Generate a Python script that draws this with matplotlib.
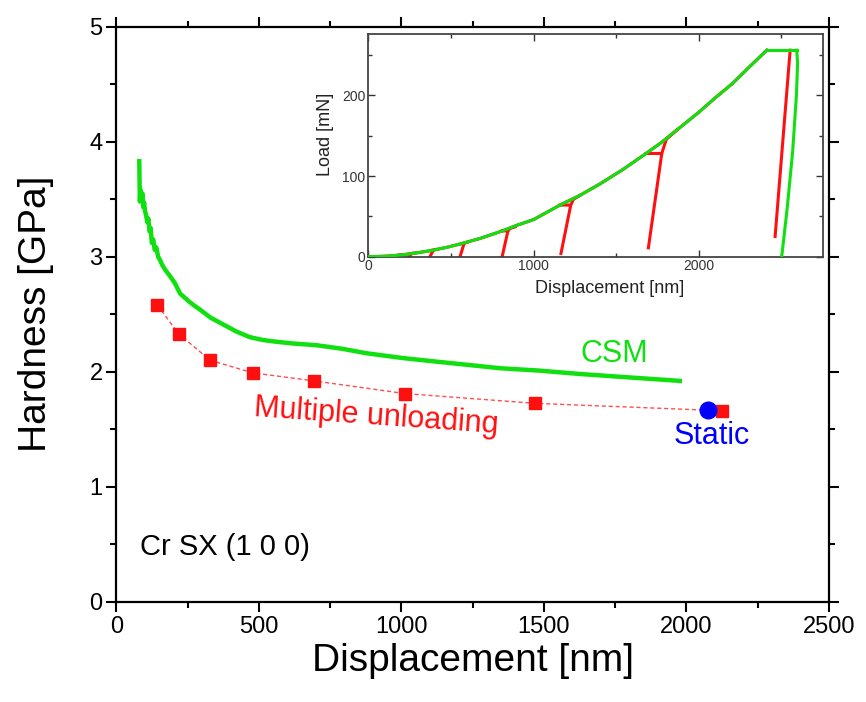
import numpy as np
import matplotlib
matplotlib.use("Agg")
import matplotlib.pyplot as plt
from matplotlib.ticker import MultipleLocator

plt.rcParams['font.family'] = ['Liberation Sans', 'DejaVu Sans']

# ---------------- main plot data ----------------
csm_x = [80, 81, 82, 85, 88, 91, 94, 97, 100, 104, 108, 112, 116, 120, 124, 129,
         134, 140, 146, 153, 160, 170, 188, 205, 223, 250, 270, 293, 330, 375,
         420, 468, 515, 562, 620, 702, 790, 878, 1000, 1112, 1230, 1346, 1480,
         1626, 1800, 1977]
csm_y = [3.83, 3.65, 3.48, 3.58, 3.50, 3.55, 3.43, 3.47, 3.40, 3.36, 3.30, 3.33,
         3.22, 3.25, 3.12, 3.15, 3.06, 3.08, 3.00, 2.97, 2.93, 2.89, 2.83, 2.77,
         2.68, 2.62, 2.58, 2.54, 2.47, 2.41, 2.35, 2.30, 2.275, 2.26, 2.245, 2.23,
         2.20, 2.16, 2.12, 2.09, 2.06, 2.03, 2.01, 1.98, 1.95, 1.92]

mu_x = [143, 218, 328, 478, 693, 1011, 1468, 2126]
mu_y = [2.58, 2.33, 2.10, 1.99, 1.92, 1.81, 1.725, 1.66]

static_x = [2077]
static_y = [1.67]

# ---------------- inset data ----------------
load_h = [0, 100, 190, 270, 390, 480, 560, 680, 811, 900, 1000, 1080, 1160,
          1280, 1400, 1540, 1681, 1770, 1867, 2000, 2100, 2200, 2310, 2412]
load_P = [0, 0.6, 2, 4, 8, 11.9, 16, 22.9, 32, 39, 46, 55, 64,
          76, 90, 108, 128, 141, 157, 179, 197, 214, 236, 256]

csm_plateau_h = [2412, 2593]
csm_plateau_P = [256, 256]
csm_unload_h = [2593, 2598, 2591, 2568, 2535, 2502]
csm_unload_P = [256, 240, 200, 130, 60, 0]

# multiple unloading cycles
cyc_P = [2, 4, 8, 16, 32, 64, 128]
cyc_hold_start = [185, 255, 385, 565, 811, 1160, 1681]
cyc_hold_end = [190, 262, 393, 579, 845, 1225, 1776]
cyc_unload_h = [182, 248, 373, 555, 811, 1166, 1695]
cyc_unload_P = [0, 0, 0, 0, 1, 4, 11]
cyc_rejoin_h = [200, 280, 410, 600, 888, 1281, 1867]
cyc_rejoin_P = [2.3, 4.6, 9, 18, 37, 76, 157]

final_hold_h = [2412, 2553]
final_hold_P = [256, 256]
final_unload_h = [2553, 2462]
final_unload_P = [256, 25]

GREEN = '#10e010'
RED = '#ff1010'
BLUE = '#0000ff'

fig = plt.figure(figsize=(8.66, 7.02), dpi=100)
ax = fig.add_axes([0.1345, 0.1429, 0.8227, 0.8191])

ax.plot(mu_x, mu_y, ls=(0, (3, 2)), color='#ff5050', lw=1.0, zorder=2)
ax.plot(mu_x, mu_y, ls='none', marker='s', ms=9, color=RED, mec=RED, zorder=3)
ax.plot(csm_x, csm_y, color=GREEN, lw=3.2, zorder=3)
ax.plot(static_x, static_y, ls='none', marker='o', ms=12, color=BLUE, zorder=4)

ax.text(1746, 2.154, 'CSM', color=GREEN, fontsize=22, ha='center', va='center')
ax.text(910, 1.61, 'Multiple unloading', color=RED, fontsize=22, ha='center',
        va='center', rotation=-4)
ax.text(2089, 1.44, 'Static', color=BLUE, fontsize=22, ha='center', va='center')
ax.text(82, 0.476, 'Cr SX (1 0 0)', color='black', fontsize=21, ha='left',
        va='center')

ax.set_xlim(0, 2500)
ax.set_ylim(0, 5)
ax.xaxis.set_major_locator(MultipleLocator(500))
ax.xaxis.set_minor_locator(MultipleLocator(250))
ax.yaxis.set_major_locator(MultipleLocator(1))
ax.yaxis.set_minor_locator(MultipleLocator(0.5))
ax.tick_params(which='both', direction='out', top=True, right=True,
               labelsize=17, width=1.5, pad=3)
ax.tick_params(which='major', length=7)
ax.tick_params(which='minor', length=4)
for s in ax.spines.values():
    s.set_linewidth(1.6)
ax.set_xlabel('Displacement [nm]', fontsize=28)
ax.set_ylabel('Hardness [GPa]', fontsize=28)
ax.xaxis.set_label_coords(0.5, -0.072)
ax.yaxis.set_label_coords(-0.088, 0.5)

# ---------------- inset ----------------
ax2 = fig.add_axes([0.4253, 0.6343, 0.5247, 0.3172])
ax2.set_zorder(5)
ax2.plot(load_h, load_P, color=RED, lw=2.2, zorder=2)
ax2.plot(final_hold_h, final_hold_P, color=RED, lw=2.2, zorder=2)
ax2.plot(final_unload_h, final_unload_P, color=RED, lw=2.2, zorder=2)
for i in range(len(cyc_P)):
    ax2.plot([cyc_hold_start[i], cyc_hold_end[i], cyc_unload_h[i]],
             [cyc_P[i], cyc_P[i], cyc_unload_P[i]], color=RED, lw=2.2, zorder=2)
    ax2.plot([cyc_hold_end[i], cyc_hold_end[i] + 0.3 * (cyc_rejoin_h[i] - cyc_hold_end[i]),
              cyc_rejoin_h[i]],
             [cyc_P[i], cyc_P[i] + 0.6 * (cyc_rejoin_P[i] - cyc_P[i]), cyc_rejoin_P[i]],
             color=RED, lw=2.2, zorder=2)
ax2.plot(load_h, load_P, color=GREEN, lw=2.2, zorder=3)
ax2.plot(csm_plateau_h, csm_plateau_P, color=GREEN, lw=2.2, zorder=3)
ax2.plot(csm_unload_h, csm_unload_P, color=GREEN, lw=2.2, zorder=3)

ax2.set_xlim(0, 2750)
ax2.set_ylim(0, 276)
ax2.xaxis.set_major_locator(MultipleLocator(1000))
ax2.xaxis.set_minor_locator(MultipleLocator(500))
ax2.yaxis.set_major_locator(MultipleLocator(100))
ax2.yaxis.set_minor_locator(MultipleLocator(50))
ax2.tick_params(which='both', direction='in', top=True, right=True,
                labelsize=10, width=1.0, colors='#333333', pad=2)
ax2.tick_params(which='major', length=5)
ax2.tick_params(which='minor', length=3)
for s in ax2.spines.values():
    s.set_linewidth(1.3)
    s.set_color('#444444')
ax2.set_xlabel('Displacement [nm]', fontsize=13, color='#222222')
ax2.set_ylabel('Load [mN]', fontsize=13, color='#222222')
ax2.xaxis.set_label_coords(0.53, -0.105)
ax2.yaxis.set_label_coords(-0.075, 0.55)

fig.savefig('out.png', dpi=100)
